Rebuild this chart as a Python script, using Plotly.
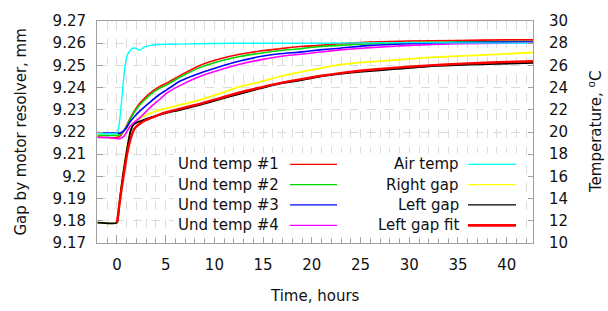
import plotly.graph_objects as go

# ---------------- data ----------------
# Undulator temperatures, degC (right axis)
t_und = [-2, -1, 0, 0.3, 0.7, 1.0, 1.33, 1.8, 2.36, 3.4, 4.4, 5.1, 6.5, 8.5, 10.6,
         12.6, 14.7, 16.7, 18.8, 20.8, 22.9, 26, 30, 35, 40, 42.7]
und1 = [19.55, 19.5, 19.5, 19.6, 20.1, 20.6, 21.2, 21.9, 22.6, 23.5, 24.1, 24.4, 25.1,
        26.0, 26.6, 27.0, 27.3, 27.5, 27.7, 27.8, 27.95, 28.1, 28.2, 28.25, 28.3, 28.3]
und2 = [19.7, 19.7, 19.7, 19.75, 20.1, 20.5, 21.1, 21.8, 22.45, 23.35, 23.95, 24.25, 24.95,
        25.8, 26.4, 26.8, 27.1, 27.35, 27.5, 27.7, 27.8, 27.95, 28.05, 28.1, 28.15, 28.15]
und3 = [19.95, 19.9, 19.9, 19.9, 20.1, 20.4, 20.9, 21.4, 21.9, 22.7, 23.4, 23.8, 24.6,
        25.3, 25.9, 26.4, 26.8, 27.05, 27.2, 27.4, 27.55, 27.8, 27.95, 28.05, 28.1, 28.1]
und4 = [19.5, 19.5, 19.4, 19.4, 19.6, 20.0, 20.5, 20.9, 21.3, 22.2, 22.95, 23.5, 24.2,
        25.0, 25.6, 26.1, 26.5, 26.8, 27.0, 27.2, 27.4, 27.6, 27.8, 27.95, 28.0, 28.05]

# Air temperature, degC (right axis)
t_air = [-2, -1, 0, 0.2, 0.5, 0.8, 1.1, 1.5, 1.9, 2.3, 2.8, 3.5, 5, 8, 12, 20, 30, 42.7]
air = [19.9, 19.85, 19.9, 20.5, 23.0, 25.8, 27.0, 27.5, 27.55, 27.35, 27.65, 27.8,
       27.9, 27.95, 28.0, 28.0, 28.05, 28.0]

# Gaps, mm (left axis)
t_gap = [-2, 0, 0.2, 0.5, 0.8, 1.1, 1.4, 1.7, 2.0, 2.5, 3.2, 4, 5, 6.5, 8.5, 10.6, 12.6,
         14.7, 16.7, 18.8, 20.8, 22.9, 25.2, 28.7, 32.1, 35.5, 39, 42.7]
right_gap = [9.1792, 9.1792, 9.186, 9.197, 9.2065, 9.2145, 9.2207, 9.2238, 9.2250, 9.2266,
             9.2280, 9.2294, 9.2306, 9.2322, 9.2345, 9.2374, 9.2404, 9.2426, 9.2450,
             9.2470, 9.2487, 9.2503, 9.2514, 9.2525, 9.2536, 9.2543, 9.2550, 9.2558]
left_gap = [9.1792, 9.1792, 9.186, 9.197, 9.206, 9.214, 9.2205, 9.2234, 9.2242, 9.2250,
            9.2262, 9.2273, 9.2285, 9.2300, 9.2322, 9.2348, 9.2372, 9.2396, 9.2418,
            9.2433, 9.2450, 9.2462, 9.2472, 9.2484, 9.2496, 9.2502, 9.2507, 9.2511]

t_fit = [0, 0.3, 0.6, 0.9, 1.2, 1.7, 2.0, 2.5, 3.0, 4.0, 5.0, 6.5, 8.5, 10.6, 12.6, 14.7,
         16.7, 18.8, 20.8, 22.9, 25.2, 28.7, 32.1, 35.5, 39, 42.7]
left_fit = [9.1792, 9.189, 9.198, 9.2065, 9.2135, 9.2207, 9.2225, 9.2242, 9.2254, 9.2272,
            9.2288, 9.2305, 9.2327, 9.2353, 9.2378, 9.2400, 9.2420, 9.2437, 9.2452,
            9.2465, 9.2477, 9.2490, 9.2500, 9.2508, 9.2514, 9.2519]

# tick labels
x_ticks = [0, 5, 10, 15, 20, 25, 30, 35, 40]
y_ticks = [9.17, 9.18, 9.19, 9.20, 9.21, 9.22, 9.23, 9.24, 9.25, 9.26, 9.27]
y_ticklabels = ["9.17", "9.18", "9.19", "9.2", "9.21", "9.22", "9.23", "9.24", "9.25",
                "9.26", "9.27"]
y2_ticks = [10, 12, 14, 16, 18, 20, 22, 24, 26, 28, 30]

legend_left = ["Und temp #1", "Und temp #2", "Und temp #3", "Und temp #4"]
legend_right = ["Air temp", "Right gap", "Left gap", "Left gap fit"]

# ---------------- styles ----------------
C_RED = "#ff0000"
C_GREEN = "#00d800"
C_BLUE = "#0000ff"
C_MAG = "#ff00ff"
C_CYAN = "#00ffff"
C_YEL = "#ffff00"
C_BLK = "#000000"
FONT = "DejaVu Sans"
TXT = "#111111"

fig = go.Figure()

def add(x, y, color, width, axis):
    fig.add_trace(go.Scatter(x=x, y=y, mode="lines", yaxis=axis, showlegend=False,
                             hoverinfo="skip",
                             line=dict(color=color, width=width, shape="spline",
                                       smoothing=0.5)))

add(t_und, und1, C_RED, 1.6, "y2")
add(t_und, und2, C_GREEN, 1.6, "y2")
add(t_und, und3, C_BLUE, 1.6, "y2")
add(t_und, und4, C_MAG, 1.6, "y2")
add(t_air, air, C_CYAN, 1.4, "y2")
add(t_gap, right_gap, C_YEL, 1.8, "y")
add(t_gap, left_gap, C_BLK, 1.8, "y")
add(t_fit, left_fit, C_RED, 2.4, "y")

# plot area in pixels: x 97..533, y 16..243 (width 608, height 311)
L, R, T, B = 97, 533, 16, 243
W, H = R - L, B - T

def px(x):
    return (x - L) / W

def py(y):
    return (B - y) / H

shapes = []
annotations = []

# opaque legend box
shapes.append(dict(type="rect", xref="paper", yref="paper", layer="above",
                   x0=px(174), x1=px(522), y0=py(237), y1=py(151),
                   fillcolor="white", line=dict(width=0)))

rows_y = [162.7, 183.3, 204, 225]
left_colors = [C_RED, C_GREEN, C_BLUE, C_MAG]
right_colors = [C_CYAN, C_YEL, C_BLK, C_RED]
right_widths = [1.3, 1.3, 1.3, 2.6]
for i, yy in enumerate(rows_y):
    shapes.append(dict(type="line", xref="paper", yref="paper", layer="above",
                       x0=px(290), x1=px(337), y0=py(yy), y1=py(yy),
                       line=dict(color=left_colors[i], width=1.3)))
    shapes.append(dict(type="line", xref="paper", yref="paper", layer="above",
                       x0=px(468), x1=px(516), y0=py(yy), y1=py(yy),
                       line=dict(color=right_colors[i], width=right_widths[i])))
    annotations.append(dict(text=legend_left[i], xref="paper", yref="paper",
                            x=px(281), y=py(yy), xanchor="right", yanchor="middle",
                            showarrow=False, font=dict(family=FONT, size=15, color=TXT)))
    annotations.append(dict(text=legend_right[i], xref="paper", yref="paper",
                            x=px(461), y=py(yy), xanchor="right", yanchor="middle",
                            showarrow=False, font=dict(family=FONT, size=15, color=TXT)))

# axis titles
annotations.append(dict(text="Time, hours", xref="paper", yref="paper", x=0.5, y=py(297),
                        xanchor="center", yanchor="middle", showarrow=False,
                        font=dict(family=FONT, size=15, color=TXT)))
annotations.append(dict(text="Gap by motor resolver, mm", xref="paper", yref="paper",
                        x=px(20.5), y=0.5, textangle=-90, xanchor="center",
                        yanchor="middle", showarrow=False,
                        font=dict(family=FONT, size=15, color=TXT)))
annotations.append(dict(text="Temperature, <sup>o</sup>C", xref="paper", yref="paper",
                        x=px(595), y=0.5, textangle=-90, xanchor="center",
                        yanchor="middle", showarrow=False,
                        font=dict(family=FONT, size=15, color=TXT)))

GRID = "#dcdcdc"
AXC = "#a0a0a0"

fig.update_layout(
    width=608, height=311,
    margin=dict(l=L, r=608 - R, t=T, b=311 - B, pad=0),
    paper_bgcolor="white", plot_bgcolor="white",
    font=dict(family=FONT, size=15, color=TXT),
    showlegend=False, hovermode=False,
    shapes=shapes, annotations=annotations,
    xaxis=dict(range=[-2.05, 42.7], tickvals=x_ticks, ticktext=[str(v) for v in x_ticks],
               ticks="inside", ticklen=8, tickcolor=AXC, tickwidth=1,
               showline=True, linecolor=AXC, linewidth=1, mirror=True,
               showgrid=True, gridcolor=GRID, griddash="dash", gridwidth=1,
               minor=dict(dtick=1, tick0=0, ticks="inside", ticklen=4, tickcolor=AXC,
                          showgrid=True, gridcolor=GRID, griddash="dash", gridwidth=1),
               zeroline=False, ticklabelstandoff=8,
               tickfont=dict(family=FONT, size=15, color=TXT)),
    yaxis=dict(range=[9.17, 9.27], tickvals=y_ticks, ticktext=y_ticklabels,
               ticks="inside", ticklen=6, tickcolor=AXC,
               showline=True, linecolor=AXC, linewidth=1,
               showgrid=True, gridcolor=GRID, griddash="dash", gridwidth=1,
               zeroline=False, ticklabelstandoff=7,
               tickfont=dict(family=FONT, size=15, color=TXT)),
    yaxis2=dict(range=[10, 30], tickvals=y2_ticks, ticktext=[str(v) for v in y2_ticks],
                overlaying="y", side="right", ticks="inside", ticklen=5, tickcolor=AXC,
                showline=True, linecolor=AXC, linewidth=1,
                showgrid=False, zeroline=False, ticklabelstandoff=12,
                tickfont=dict(family=FONT, size=15, color=TXT)),
)

fig.write_html("out.html",
               config={"displayModeBar": False, "staticPlot": True},
               post_script="document.body.style.margin='0';document.body.style.padding='0';")
